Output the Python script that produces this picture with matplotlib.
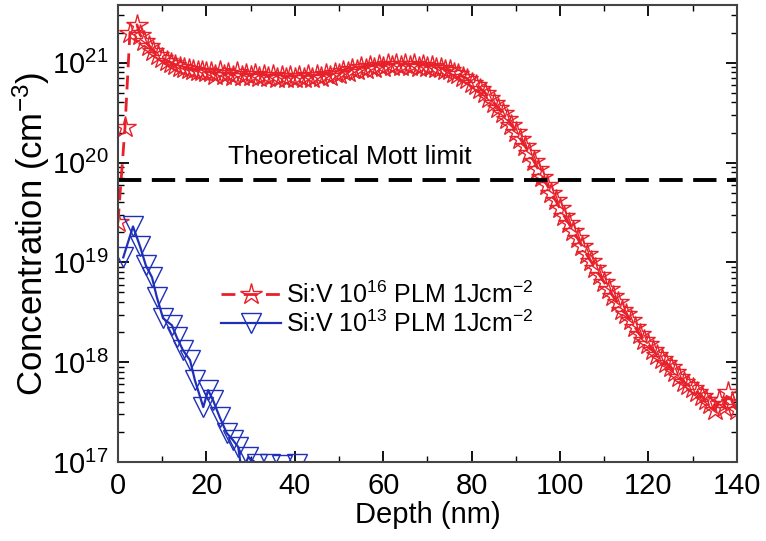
import numpy as np
import matplotlib.pyplot as plt

plt.rcParams['font.family'] = ['Liberation Sans', 'DejaVu Sans']
plt.rcParams['mathtext.default'] = 'regular'

# Si:V 10^16 PLM 1Jcm-2 (log10 of concentration, cm^-3)
depth_hi = [0, 1.6, 2.7, 4.3,
            5, 6, 7, 8, 9, 10, 11, 12, 13, 14, 15, 16, 17, 18, 19, 20,
            21, 22, 23, 24, 25, 26, 27, 28, 29, 30,
            31, 32, 33, 34, 35, 36, 37, 38, 39, 40,
            41, 42, 43, 44, 45, 46, 47, 48, 49, 50,
            51, 52, 53, 54, 55, 56, 57, 58, 59, 60,
            61, 62, 63, 64, 65, 66, 67, 68, 69, 70,
            71, 72, 73, 74, 75, 76, 77, 78, 79, 80,
            81, 82, 83, 84, 85, 86, 87, 88, 89, 90,
            91, 92, 93, 94, 95, 96, 97, 98, 99, 100,
            101, 102, 103, 104, 105, 106, 107, 108, 109, 110,
            111, 112, 113, 114, 115, 116, 117, 118, 119, 120,
            121, 122, 123, 124, 125, 126, 127, 128, 129, 130,
            131, 132, 133, 134, 135, 136, 137, 138, 139, 140]
log_hi = [19.40, 20.36, 21.30, 21.38,
          21.28, 21.22, 21.17, 21.12, 21.08, 21.05, 21.02, 21.00, 20.98, 20.96,
          20.95, 20.94, 20.93, 20.92, 20.92, 20.91,
          20.91, 20.88, 20.92, 20.88, 20.90, 20.87, 20.91, 20.87, 20.89, 20.87,
          20.89, 20.86, 20.88, 20.86, 20.88, 20.85, 20.87, 20.85, 20.87, 20.85,
          20.87, 20.85, 20.88, 20.85, 20.88, 20.86, 20.89, 20.87, 20.90, 20.89,
          20.92, 20.91, 20.94, 20.93, 20.96, 20.94, 20.97, 20.95, 20.98, 20.96,
          20.99, 20.97, 20.99, 20.97, 20.99, 20.97, 20.99, 20.96, 20.98, 20.96,
          20.97, 20.95, 20.95, 20.93, 20.93, 20.90, 20.89, 20.86, 20.84, 20.80,
          20.78, 20.74, 20.70, 20.65, 20.60, 20.55, 20.50, 20.44, 20.38, 20.31,
          20.24, 20.17, 20.10, 20.02, 19.94, 19.86, 19.78, 19.70, 19.62, 19.54,
          19.46, 19.39, 19.31, 19.24, 19.16, 19.08, 19.01, 18.94, 18.87, 18.80,
          18.73, 18.66, 18.60, 18.52, 18.48, 18.42, 18.35, 18.28, 18.22, 18.18,
          18.12, 18.07, 18.03, 17.99, 17.95, 17.90, 17.85, 17.80, 17.77, 17.74,
          17.70, 17.66, 17.62, 17.58, 17.52, 17.62, 17.55, 17.70, 17.60, 17.52]

# Si:V 10^13 PLM 1Jcm-2
depth_lo = [1.2, 3.4, 5.0, 6.3, 7.7, 8.8, 10.2, 12.2, 13.3, 14.7, 16.3, 17.4,
            19.3, 20.4, 21.5, 23.0, 24.6, 26.0, 27.2, 28.0, 29.5, 31.5, 34.4,
            37.0, 40.5]
log_lo = [19.05, 19.36, 19.16, 18.97, 18.85, 18.65, 18.44, 18.37, 18.25, 18.12,
          18.02, 17.82, 17.55, 17.72, 17.62, 17.45, 17.29, 17.22, 17.15, 16.90,
          17.05, 16.98, 16.98, 16.97, 16.98]

mott_limit = 6.7e19

conc_hi = 10 ** np.array(log_hi)
conc_lo = 10 ** np.array(log_lo)

fig = plt.figure(figsize=(7.66, 5.41), dpi=100)
ax = fig.add_axes([0.154, 0.146, 0.808, 0.845])

red = '#e8202a'
blue = '#1f2fb8'

ax.plot(depth_hi, conc_hi, color=red, ls=(0, (5, 3)), lw=2, marker='*',
        ms=16, mfc='none', mec=red, mew=1.0,
        label='Si:V 10$^{16}$ PLM 1Jcm$^{-2}$')
ax.plot(depth_lo, conc_lo, color=blue, ls='-', lw=1.6, marker='v',
        ms=15, mfc='none', mec=blue, mew=1.0,
        label='Si:V 10$^{13}$ PLM 1Jcm$^{-2}$')
ax.axhline(mott_limit, color='black', ls=(0, (6, 2.7)), lw=2.8)
ax.text(25, 1.15e20, 'Theoretical Mott limit', fontsize=19, ha='left', va='center')

ax.set_yscale('log')
ax.set_xlim(0, 140)
ax.set_ylim(1e17, 3.8e21)
ax.set_xticks(np.arange(0, 141, 20))
ax.set_xticks(np.arange(10, 140, 20), minor=True)

ax.tick_params(which='both', direction='in', top=True, right=True, labelsize=21)
ax.tick_params(which='major', length=8, width=1.3, pad=7)
ax.tick_params(which='minor', length=4, width=1.0)
for s in ax.spines.values():
    s.set_linewidth(1.5)
    s.set_color('#444444')

ax.set_xlabel('Depth (nm)', fontsize=21, labelpad=1)
ax.set_ylabel('Concentration (cm$^{-3}$)', fontsize=25, labelpad=0)

ax.legend(loc='center left', bbox_to_anchor=(0.15, 0.335), frameon=False,
          fontsize=18, handlelength=2.4, handletextpad=0.2, labelspacing=0.1,
          borderaxespad=0)

fig.savefig('out.png', dpi=100)
